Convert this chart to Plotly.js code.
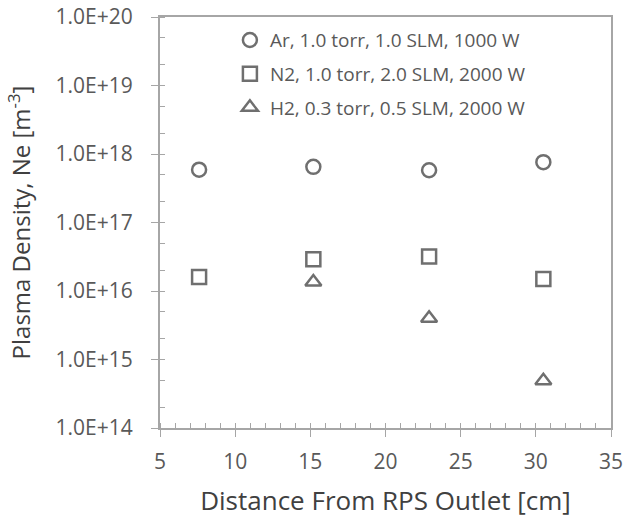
<!DOCTYPE html>
<html><head><meta charset="utf-8">
<script src="https://cdn.plot.ly/plotly-3.0.1.min.js"></script>
<style>html,body{margin:0;padding:0;background:#fff;}</style>
</head><body>
<div id="chart" style="width:627px;height:521px;"></div>
<script>
const distance = [7.6, 15.2, 22.9, 30.5];
const arDensity = [5.9e17, 6.5e17, 5.8e17, 7.6e17];
const n2Density = [1.6e16, 2.9e16, 3.2e16, 1.5e16];
const h2Distance = [15.2, 22.9, 30.5];
const h2Density = [1.35e16, 4.0e15, 4.9e14];
const seriesNames = ["Ar, 1.0 torr, 1.0 SLM, 1000 W", "N2, 1.0 torr, 2.0 SLM, 2000 W", "H2, 0.3 torr, 0.5 SLM, 2000 W"];
const yTickVals = [1e14, 1e15, 1e16, 1e17, 1e18, 1e19, 1e20];
const yTickText = ["1.0E+14", "1.0E+15", "1.0E+16", "1.0E+17", "1.0E+18", "1.0E+19", "1.0E+20"];

const mc = "#6f6f6f";
function tr(x, y, name, sym, size, grp) {
  return {x: x, y: y, name: name, type: "scatter", mode: "markers", legendgroup: grp,
    marker: {symbol: sym, size: size, color: mc, line: {color: mc, width: 2.5}}};
}
const data = [
  tr(distance, arDensity, seriesNames[0], "circle-open", 14, "a"),
  tr(distance, n2Density, seriesNames[1], "square-open", 14, "b"),
  tr(h2Distance, h2Density, seriesNames[2], "triangle-up-open", 14, "c")
];
const axc = "#a6a6a6";
const layout = {
  width: 627, height: 521,
  margin: {l: 160, r: 16, t: 17, b: 93},
  paper_bgcolor: "#fff", plot_bgcolor: "#fff",
  font: {family: "Open Sans", color: "#595959"},
  showlegend: true,
  legend: {x: 0.155, y: 0.99, xanchor: "left", yanchor: "top", bgcolor: "rgba(0,0,0,0)",
    font: {size: 19, color: "#595959"}, itemwidth: 30, tracegroupgap: 6},
  xaxis: {range: [5, 35], tickvals: [5,10,15,20,25,30,35], ticks: "outside", ticklen: 7,
    tickcolor: axc, showline: true, linecolor: axc, linewidth: 2, mirror: true,
    showgrid: false, zeroline: false, tickfont: {size: 21, color: "#595959"}, ticklabelstandoff: 7,
    minor: {dtick: 1, ticks: "inside", ticklen: 5, tickcolor: axc, showgrid: false},
    title: {text: "Distance From RPS Outlet [cm]", font: {size: 26, color: "#404040"}, standoff: 18}},
  yaxis: {type: "log", range: [14, 20], tickvals: yTickVals, ticktext: yTickText,
    ticks: "outside", ticklen: 7, tickcolor: axc, showline: true, linecolor: axc, linewidth: 2, mirror: true,
    showgrid: false, zeroline: false, tickfont: {size: 21, color: "#595959"}, ticklabelstandoff: 14,
    minor: {ticks: "inside", ticklen: 5, tickcolor: axc, showgrid: false},
    title: {text: "Plasma Density, Ne [m<sup>-3</sup>]", font: {size: 24, color: "#404040"}, standoff: 18}}
};
Plotly.newPlot("chart", data, layout, {displayModeBar: false});
</script>
</body></html>
